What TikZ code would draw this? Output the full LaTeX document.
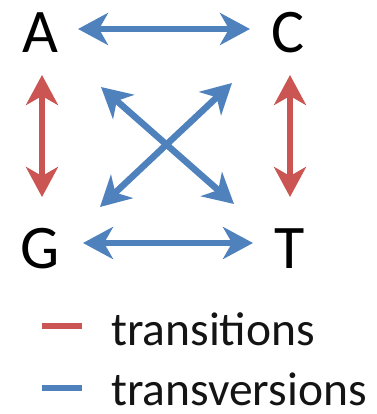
\documentclass[tikz,border=0pt]{standalone}
\usepackage{fontspec}
\setmainfont{Carlito}
\usetikzlibrary{arrows.meta}
\definecolor{tvblue}{RGB}{79,129,189}
\definecolor{tsred}{RGB}{203,85,82}
\definecolor{legink}{RGB}{20,20,20}
\begin{document}
\begin{tikzpicture}[x=1pt,y=-1pt,
  base/.style={anchor=base,inner sep=0pt,font=\fontsize{62}{64}\selectfont},
  legtext/.style={anchor=base west,inner sep=0pt,text depth=0pt,text=legink,font=\fontsize{47.5}{50}\selectfont},
  both/.style={line width=6.5pt,{Stealth[length=30pt,width=32pt,inset=9pt]}-{Stealth[length=30pt,width=32pt,inset=9pt]}},
  transversion/.style={both,draw=tvblue},
  transition/.style={both,draw=tsred},
  legline/.style={line width=6pt}]
\useasboundingbox (0,0) rectangle (376,414);
% bases
\node[base] (A) at (40,53) {A};
\node[base] (C) at (288,53) {C};
\node[base] (G) at (40,268) {G};
\node[base] (T) at (290,268) {T};
% arrow end points
\coordinate (ac1) at (78,29);   \coordinate (ac2) at (250,29);
\coordinate (gt1) at (83,243);  \coordinate (gt2) at (253,243);
\coordinate (ag1) at (42,75);   \coordinate (ag2) at (42,197);
\coordinate (ct1) at (290,75);  \coordinate (ct2) at (290,197);
\coordinate (at1) at (101,87);  \coordinate (at2) at (234,204);
\coordinate (cg1) at (232,83);  \coordinate (cg2) at (100,207);
% substitutions
\draw[transversion] (ac1) -- (ac2);
\draw[transversion] (gt1) -- (gt2);
\draw[transversion] (at1) -- (at2);
\draw[transversion] (cg1) -- (cg2);
\draw[transition] (ag1) -- (ag2);
\draw[transition] (ct1) -- (ct2);
% legend
\coordinate (l1a) at (42,326); \coordinate (l1b) at (82,326);
\coordinate (l2a) at (42,388); \coordinate (l2b) at (82,388);
\draw[legline,tsred] (l1a) -- (l1b);
\draw[legline,tvblue] (l2a) -- (l2b);
\node[legtext] (ts) at (111,345) {transitions};
\node[legtext] (tv) at (111,405) {transversions};
\end{tikzpicture}
\end{document}
